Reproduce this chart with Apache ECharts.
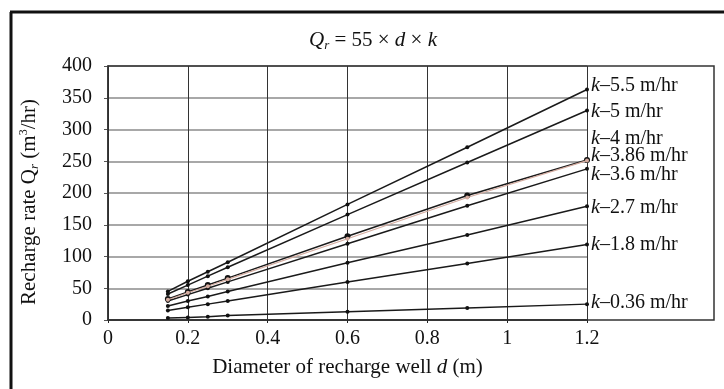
<!DOCTYPE html>
<html>
<head>
<meta charset="utf-8">
<script src="https://cdn.jsdelivr.net/npm/echarts@6/dist/echarts.min.js"></script>
<style>
  html, body { margin: 0; padding: 0; background: #fff; }
  #chart { width: 724px; height: 389px; }
</style>
</head>
<body>
<div id="chart"></div>
<script>
// diameters (m)
const diameters = [0.15, 0.2, 0.25, 0.3, 0.6, 0.9, 1.2];

// recharge rate per k value (m3/hr)
const k55 = [45, 61, 76, 91, 182, 272, 363];
const k50 = [41, 55, 69, 83, 166, 248, 330];
const k40 = [33, 44, 55, 66, 132, 196, 252];
const k386 = [32, 43, 53, 64, 128, 193, 251];
const k36 = [30, 40, 50, 60, 120, 180, 238];
const k27 = [22, 30, 37, 45, 90, 134, 179];
const k18 = [15, 20, 25, 30, 60, 89, 119];
const k036 = [3, 4, 5, 7, 13, 19, 25];

const kLabels = ['5.5', '5', '4', '3.86', '3.6', '2.7', '1.8', '0.36'];
const kValues = [k55, k50, k40, k386, k36, k27, k18, k036];
// vertical nudge of each end label so they do not collide
const labelShift = [-4, 1, -21, -5, 6, 1, 0, -1];

const xTicks = [0, 0.2, 0.4, 0.6, 0.8, 1, 1.2];

const chart = echarts.init(document.getElementById('chart'));

const serif = 'Liberation Serif';

const series = kValues.map((vals, i) => ({
    type: 'line',
    name: 'k-' + kLabels[i],
    data: vals.map((v, j) => [diameters[j], v]),
    symbol: 'circle',
    symbolSize: i === 2 ? 6 : 4,
    lineStyle: { color: i === 3 ? '#d4aca0' : '#1a1a1a', width: i === 3 ? 1.1 : 1.5 },
    itemStyle: { color: i === 3 ? '#d4aca0' : '#111' },
    z: i === 3 ? 3 : 2,
    clip: false,
    animation: false,
    endLabel: {
        show: true,
        distance: 4,
        offset: [0, labelShift[i]],
        formatter: '{i|k}–' + kLabels[i] + ' m/hr',
        color: '#111',
        fontFamily: serif,
        fontSize: 20,
        rich: {
            i: { fontStyle: 'italic', fontFamily: serif, fontSize: 20, color: '#111' }
        }
    }
}));

const option = {
    animation: false,
    backgroundColor: '#fff',
    title: {
        text: '{i|Q}{s|r} = 55 × {i|d} × {i|k}',
        left: 368,
        textAlign: 'center',
        top: 24,
        textStyle: {
            fontFamily: serif,
            fontSize: 21,
            fontWeight: 'normal',
            color: '#111',
            rich: {
                i: { fontStyle: 'italic', fontFamily: serif, fontSize: 21, color: '#111' },
                s: { fontStyle: 'italic', fontFamily: serif, fontSize: 13, color: '#111', verticalAlign: 'bottom', padding: [10, 0, 0, 0] }
            }
        }
    },
    grid: { left: 108, right: 137, top: 66, bottom: 69 },
    xAxis: {
        type: 'value',
        min: 0,
        max: 1.2,
        interval: 0.2,
        name: 'Diameter of recharge well {i|d} (m)',
        nameLocation: 'middle',
        nameGap: 37,
        nameTextStyle: {
            fontFamily: serif,
            fontSize: 21,
            color: '#111',
            rich: { i: { fontStyle: 'italic', fontFamily: serif, fontSize: 21, color: '#111' } }
        },
        axisLine: { lineStyle: { color: '#222', width: 1.5 } },
        axisTick: { show: true, length: 3, lineStyle: { color: '#222' } },
        axisLabel: {
            fontFamily: serif,
            fontSize: 20,
            color: '#111',
            margin: 9,
            customValues: xTicks
        },
        splitLine: { show: true, lineStyle: { color: '#333', width: 1 } }
    },
    yAxis: {
        type: 'value',
        min: 0,
        max: 400,
        interval: 50,
        name: 'Recharge rate {i|Q}{s|r} (m{p|3}/hr)',
        nameLocation: 'middle',
        nameGap: 67,
        nameRotate: 90,
        nameTextStyle: {
            fontFamily: serif,
            fontSize: 21,
            color: '#111',
            padding: [0, 18, 0, 0],
            rich: {
                i: { fontFamily: serif, fontSize: 21, color: '#111' },
                s: { fontStyle: 'italic', fontFamily: serif, fontSize: 13, color: '#111', verticalAlign: 'bottom', padding: [10, 0, 0, 0] },
                p: { fontFamily: serif, fontSize: 12, color: '#111', verticalAlign: 'top', padding: [0, 0, 10, 0] }
            }
        },
        axisLine: { show: true, lineStyle: { color: '#222', width: 1.5 } },
        axisTick: { show: true, length: 4, lineStyle: { color: '#555' } },
        axisLabel: { fontFamily: serif, fontSize: 20, color: '#111', margin: 16 },
        splitLine: { show: true, lineStyle: { color: '#a8a8a8', width: 2 } }
    },
    graphic: [
        // outer frame (top and left edges of the figure border)
        { type: 'line', shape: { x1: 10, y1: 12, x2: 724, y2: 12 }, style: { stroke: '#111', lineWidth: 3 } },
        { type: 'line', shape: { x1: 11, y1: 12, x2: 11, y2: 389 }, style: { stroke: '#111', lineWidth: 3 } },
        // plot box that also frames the end labels
        { type: 'rect', shape: { x: 108, y: 66, width: 606, height: 254 }, style: { fill: 'none', stroke: '#333', lineWidth: 1.5 }, z: 1 }
    ],
    series: series
};

chart.setOption(option);
</script>
</body>
</html>
